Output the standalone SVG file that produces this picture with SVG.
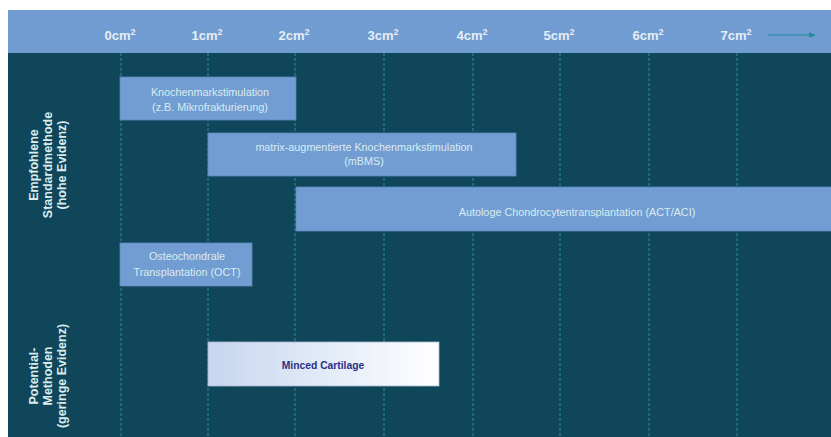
<svg xmlns="http://www.w3.org/2000/svg" width="831" height="437" viewBox="0 0 831 437">
<defs>
<style>
.hdr{font-family:"Liberation Sans",Arial,sans-serif;font-size:13px;font-weight:bold;fill:#e6eef4;text-anchor:middle}
.sup{font-size:9px}
.grid{stroke:#2a8d9b;stroke-width:1;stroke-dasharray:3 2;fill:none}
.bar{fill:#719dd3;stroke:#5f88bd;stroke-width:0.8}
.bt{font-family:"Liberation Sans",Arial,sans-serif;font-size:10.8px;fill:#d9ecef;text-anchor:middle}
.side{font-family:"Liberation Sans",Arial,sans-serif;font-size:12.5px;font-weight:bold;fill:#d9ecef;text-anchor:middle}
.mc{font-family:"Liberation Sans",Arial,sans-serif;font-size:10.3px;font-weight:bold;fill:#2b2f86;text-anchor:middle}
</style>
<linearGradient id="mcg" x1="0" y1="0" x2="1" y2="0">
<stop offset="0" stop-color="#c6d6ef"/>
<stop offset="1" stop-color="#ffffff"/>
</linearGradient>
<marker id="ah" viewBox="0 0 10 10" refX="9" refY="5" markerWidth="6" markerHeight="6" orient="auto">
<path d="M0,1 L10,5 L0,9 z" fill="#1f8a99"/>
</marker>
</defs>
<rect x="0" y="0" width="831" height="437" fill="#ffffff"/>
<rect id="plot" x="8" y="53" width="823" height="384" fill="#0f4659"/>
<g id="header">
<rect x="8" y="10" width="823" height="43" fill="#709cd2"/>
<text class="hdr" x="120" y="40">0cm<tspan class="sup" dy="-5">2</tspan></text>
<text class="hdr" x="207" y="40">1cm<tspan class="sup" dy="-5">2</tspan></text>
<text class="hdr" x="294" y="40">2cm<tspan class="sup" dy="-5">2</tspan></text>
<text class="hdr" x="383" y="40">3cm<tspan class="sup" dy="-5">2</tspan></text>
<text class="hdr" x="472" y="40">4cm<tspan class="sup" dy="-5">2</tspan></text>
<text class="hdr" x="559" y="40">5cm<tspan class="sup" dy="-5">2</tspan></text>
<text class="hdr" x="648" y="40">6cm<tspan class="sup" dy="-5">2</tspan></text>
<text class="hdr" x="736" y="40">7cm<tspan class="sup" dy="-5">2</tspan></text>
</g>
<g id="connectors">
<line class="grid" x1="121" y1="53" x2="121" y2="437"/>
<line class="grid" x1="208" y1="53" x2="208" y2="437"/>
<line class="grid" x1="295" y1="53" x2="295" y2="437"/>
<line class="grid" x1="384" y1="53" x2="384" y2="437"/>
<line class="grid" x1="473" y1="53" x2="473" y2="437"/>
<line class="grid" x1="560" y1="53" x2="560" y2="437"/>
<line class="grid" x1="649" y1="53" x2="649" y2="437"/>
<line class="grid" x1="737" y1="53" x2="737" y2="437"/>
<line x1="768" y1="35" x2="815" y2="35" stroke="#1f8a99" stroke-width="1.2" marker-end="url(#ah)"/>
</g>
<g id="label-standard">
<text class="side" transform="translate(38,165) rotate(-90)">Empfohlene</text>
<text class="side" transform="translate(52,165) rotate(-90)">Standardmethode</text>
<text class="side" transform="translate(66,165) rotate(-90)">(hohe Evidenz)</text>
</g>
<g id="label-potential">
<text class="side" transform="translate(38,376) rotate(-90)">Potential-</text>
<text class="side" transform="translate(52,376) rotate(-90)">Methoden</text>
<text class="side" transform="translate(66,376) rotate(-90)">(geringe Evidenz)</text>
</g>
<g id="node-kms">
<rect class="bar" x="120" y="77" width="176" height="43"/>
<text class="bt" x="210" y="96">Knochenmarkstimulation</text>
<text class="bt" x="210" y="111">(z.B. Mikrofrakturierung)</text>
</g>
<g id="node-mbms">
<rect class="bar" x="208" y="133" width="308" height="43"/>
<text class="bt" x="364" y="151">matrix-augmentierte Knochenmarkstimulation</text>
<text class="bt" x="364" y="165">(mBMS)</text>
</g>
<g id="node-act">
<rect class="bar" x="296" y="187" width="536" height="44"/>
<text class="bt" x="577" y="216">Autologe Chondrocytentransplantation (ACT/ACI)</text>
</g>
<g id="node-oct">
<rect class="bar" x="120" y="243" width="132" height="43"/>
<text class="bt" x="187" y="260">Osteochondrale</text>
<text class="bt" x="187" y="276">Transplantation (OCT)</text>
</g>
<g id="node-minced">
<rect x="208" y="342" width="231" height="44" fill="url(#mcg)" stroke="#a9bcd8" stroke-width="0.8"/>
<text class="mc" x="323" y="369">Minced Cartilage</text>
</g>
</svg>
